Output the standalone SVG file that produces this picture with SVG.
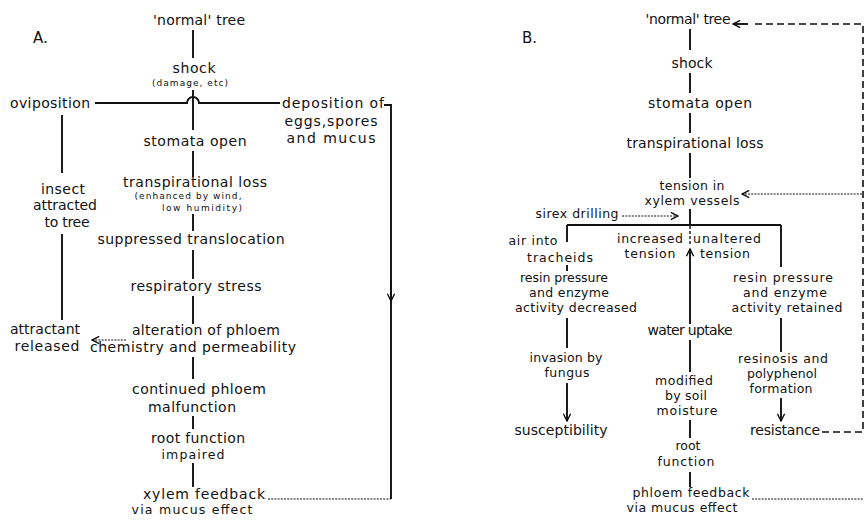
<svg xmlns="http://www.w3.org/2000/svg" width="864" height="520" viewBox="0 0 864 520">
<style>
text{font-family:"DejaVu Sans","Liberation Sans",sans-serif;font-size:14px;fill:#111;text-anchor:middle}
text.c{font-size:12.5px}
text.sm{font-size:9px}
text.lab{font-size:15px;text-anchor:start}
.ln{stroke:#111;stroke-width:1.9;fill:none}
.dot{stroke:#111;stroke-width:1.2;fill:none;stroke-dasharray:2 1.2}
.dash{stroke:#111;stroke-width:1.6;fill:none;stroke-dasharray:7 4}
.sdash{stroke:#111;stroke-width:1.4;fill:none;stroke-dasharray:3 2}
</style>
<defs>
<marker id="ah" viewBox="0 0 10 10" refX="9" refY="5" markerWidth="9" markerHeight="9" orient="auto" markerUnits="userSpaceOnUse"><path d="M1,1 L9,5 L1,9" fill="none" stroke="#111" stroke-width="1.6"/></marker>
</defs>
<rect width="864" height="520" fill="#fff"/>

<g id="connectors">
<!-- A -->
<path class="ln" d="M193,30 V58"/>
<path class="ln" d="M193,90 V130"/>
<path class="ln" d="M95,103 H187 A6,6 0 0 1 199,103 H280"/>
<path class="ln" d="M384,105 H391 V499"/>
<path class="ln" d="M391,280 V301" marker-end="url(#ah)"/>
<path class="dot" d="M268,499 H391"/>
<path class="ln" d="M193,151 V177"/>
<path class="ln" d="M193,214 V231"/>
<path class="ln" d="M193,250 V279"/>
<path class="ln" d="M193,296 V324"/>
<path class="ln" d="M193,357 V379"/>
<path class="ln" d="M193,416 V429"/>
<path class="ln" d="M193,463 V487"/>
<path class="ln" d="M62,115 V173"/>
<path class="ln" d="M62,234 V320"/>
<path class="dot" d="M126,340 H92" marker-end="url(#ah)"/>
<!-- B -->
<path class="ln" d="M690,29 V50"/>
<path class="ln" d="M690,73 V93"/>
<path class="ln" d="M690,113 V133"/>
<path class="ln" d="M690,153 V178"/>
<path class="ln" d="M690,209 V225"/>
<path class="ln" d="M567,225 H781"/>
<path class="ln" d="M567,225 V242"/>
<path class="ln" d="M567,265 V271"/>
<path class="ln" d="M781,225 V267"/>
<path class="sdash" d="M690,226 V246"/>
<path class="ln" d="M690,324 V249" marker-end="url(#ah)"/>
<path class="ln" d="M567,318 V348"/>
<path class="ln" d="M567,383 V421" marker-end="url(#ah)"/>
<path class="ln" d="M690,340 V372"/>
<path class="ln" d="M690,420 V438"/>
<path class="ln" d="M690,472 V487"/>
<path class="dot" d="M752,499 H864"/>
<path class="ln" d="M781,318 V352"/>
<path class="ln" d="M781,398 V421" marker-end="url(#ah)"/>
<path class="dash" d="M822,432 H863 V24 H752"/>
<path class="ln" d="M748,24 H733" marker-end="url(#ah)"/>
<path class="dot" d="M862,194 H742" marker-end="url(#ah)"/>
<path class="dot" d="M622,216 H678" marker-end="url(#ah)"/>
</g>

<text class="lab" x="33" y="43">A.</text>
<text class="lab" x="522" y="43">B.</text>

<!-- A nodes -->
<g id="a-normal-tree"><text x="199" y="25" textLength="92" lengthAdjust="spacing">'normal' tree</text></g>
<g id="a-shock"><text x="194" y="73" textLength="43" lengthAdjust="spacing">shock</text><text class="sm" x="190" y="86" textLength="76" lengthAdjust="spacing">(damage, etc)</text></g>
<g id="a-oviposition"><text x="50" y="108" textLength="80" lengthAdjust="spacing">oviposition</text></g>
<g id="a-deposition"><text x="333" y="108" textLength="102" lengthAdjust="spacing">deposition of</text><text x="331" y="126" textLength="93" lengthAdjust="spacing">eggs,spores</text><text x="331" y="143" textLength="89" lengthAdjust="spacing">and mucus</text></g>
<g id="a-stomata"><text x="195" y="146" textLength="103" lengthAdjust="spacing">stomata open</text></g>
<g id="a-transpiration"><text x="195" y="187" textLength="144" lengthAdjust="spacing">transpirational loss</text><text class="sm" x="188" y="199" textLength="107" lengthAdjust="spacing">(enhanced by wind,</text><text class="sm" x="202" y="211" textLength="80" lengthAdjust="spacing">low humidity)</text></g>
<g id="a-insect"><text x="63" y="194" textLength="44" lengthAdjust="spacing">insect</text><text x="65" y="210" textLength="64" lengthAdjust="spacing">attracted</text><text x="67" y="227" textLength="45" lengthAdjust="spacing">to tree</text></g>
<g id="a-suppressed"><text x="191" y="244" textLength="187" lengthAdjust="spacing">suppressed translocation</text></g>
<g id="a-respiratory"><text x="196" y="291" textLength="131" lengthAdjust="spacing">respiratory stress</text></g>
<g id="a-alteration"><text x="206" y="335" textLength="148" lengthAdjust="spacing">alteration of phloem</text><text x="193" y="352" textLength="206" lengthAdjust="spacing">chemistry and permeability</text></g>
<g id="a-attractant"><text x="45" y="334" textLength="70" lengthAdjust="spacing">attractant</text><text x="47" y="351" textLength="65" lengthAdjust="spacing">released</text></g>
<g id="a-continued"><text x="199" y="394" textLength="134" lengthAdjust="spacing">continued phloem</text><text x="192" y="412" textLength="88" lengthAdjust="spacing">malfunction</text></g>
<g id="a-root"><text x="198" y="443" textLength="94" lengthAdjust="spacing">root function</text><text class="c" x="193" y="459" textLength="63" lengthAdjust="spacing">impaired</text></g>
<g id="a-xylem-feedback"><text x="204" y="499" textLength="122" lengthAdjust="spacing">xylem feedback</text><text class="c" x="192" y="514" textLength="121" lengthAdjust="spacing">via mucus effect</text></g>

<!-- B nodes -->
<g id="b-normal-tree"><text x="688" y="24" textLength="85" lengthAdjust="spacing">'normal' tree</text></g>
<g id="b-shock"><text x="692" y="68" textLength="41" lengthAdjust="spacing">shock</text></g>
<g id="b-stomata"><text x="700" y="108" textLength="104" lengthAdjust="spacing">stomata open</text></g>
<g id="b-transpiration"><text x="695" y="148" textLength="137" lengthAdjust="spacing">transpirational loss</text></g>
<g id="b-tension"><text class="c" x="692" y="190" textLength="65" lengthAdjust="spacing">tension in</text><text class="c" x="692" y="205" textLength="95" lengthAdjust="spacing">xylem vessels</text></g>
<g id="b-sirex"><text class="c" x="577" y="218" textLength="83" lengthAdjust="spacing">sirex drilling</text></g>
<g id="b-air"><text class="c" x="533" y="245" textLength="49" lengthAdjust="spacing">air into</text><text class="c" x="560" y="262" textLength="66" lengthAdjust="spacing">tracheids</text></g>
<g id="b-increased"><text class="c" x="650" y="243" textLength="66" lengthAdjust="spacing">increased</text><text class="c" x="650" y="258" textLength="51" lengthAdjust="spacing">tension</text></g>
<g id="b-unaltered"><text class="c" x="727" y="243" textLength="68" lengthAdjust="spacing">unaltered</text><text class="c" x="725" y="258" textLength="50" lengthAdjust="spacing">tension</text></g>
<g id="b-resin-decreased"><text class="c" x="564" y="282" textLength="88" lengthAdjust="spacing">resin pressure</text><text class="c" x="569" y="297" textLength="80" lengthAdjust="spacing">and enzyme</text><text class="c" x="576" y="312" textLength="122" lengthAdjust="spacing">activity decreased</text></g>
<g id="b-resin-retained"><text class="c" x="783" y="282" textLength="100" lengthAdjust="spacing">resin pressure</text><text class="c" x="785" y="297" textLength="84" lengthAdjust="spacing">and enzyme</text><text class="c" x="787" y="312" textLength="111" lengthAdjust="spacing">activity retained</text></g>
<g id="b-water"><text x="690" y="335" textLength="85" lengthAdjust="spacing">water uptake</text></g>
<g id="b-invasion"><text class="c" x="566" y="362" textLength="73" lengthAdjust="spacing">invasion by</text><text class="c" x="567" y="377" textLength="45" lengthAdjust="spacing">fungus</text></g>
<g id="b-susceptibility"><text x="561" y="435" textLength="93" lengthAdjust="spacing">susceptibility</text></g>
<g id="b-modified"><text class="c" x="684" y="385" textLength="58" lengthAdjust="spacing">modified</text><text class="c" x="686" y="400" textLength="42" lengthAdjust="spacing">by soil</text><text class="c" x="687" y="415" textLength="61" lengthAdjust="spacing">moisture</text></g>
<g id="b-resinosis"><text class="c" x="783" y="363" textLength="90" lengthAdjust="spacing">resinosis and</text><text class="c" x="782" y="378" textLength="70" lengthAdjust="spacing">polyphenol</text><text class="c" x="781" y="393" textLength="63" lengthAdjust="spacing">formation</text></g>
<g id="b-resistance"><text x="785" y="435" textLength="70" lengthAdjust="spacing">resistance</text></g>
<g id="b-root"><text class="c" x="688" y="450" textLength="25" lengthAdjust="spacing">root</text><text class="c" x="686" y="466" textLength="57" lengthAdjust="spacing">function</text></g>
<g id="b-phloem-feedback"><text class="c" x="691" y="497" textLength="117" lengthAdjust="spacing">phloem feedback</text><text class="c" x="682" y="512" textLength="111" lengthAdjust="spacing">via mucus effect</text></g>
</svg>
